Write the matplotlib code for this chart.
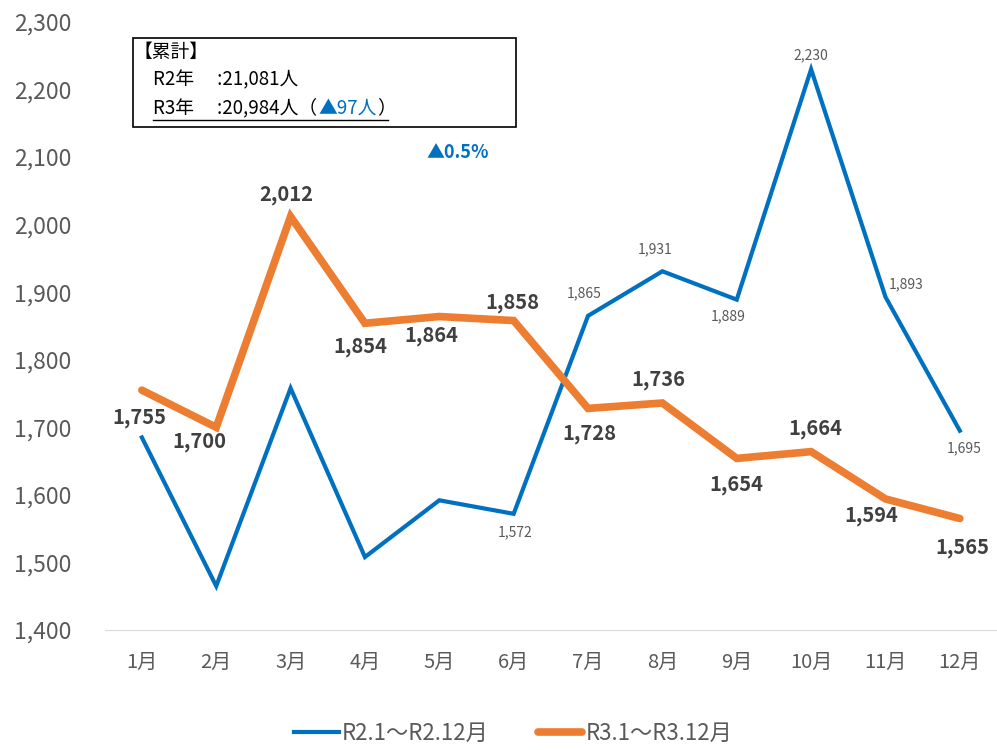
import matplotlib
matplotlib.use("Agg")
import matplotlib.pyplot as plt
from matplotlib.lines import Line2D
from matplotlib.patches import Rectangle

plt.rcParams["font.family"] = ["Noto Sans CJK JP", "DejaVu Sans"]

months = ["1月", "2月", "3月", "4月", "5月", "6月",
          "7月", "8月", "9月", "10月", "11月", "12月"]
r2_values = [1685, 1465, 1758, 1508, 1592, 1572, 1865, 1931, 1889, 2230, 1893, 1695]
r3_values = [1755, 1700, 2012, 1854, 1864, 1858, 1728, 1736, 1654, 1664, 1594, 1565]
r2_labeled = [5, 6, 7, 8, 9, 10, 11]   # months whose R2 value is shown
r2_label = "R2.1～R2.12月"
r3_label = "R3.1～R3.12月"
y_ticks = list(range(1400, 2301, 100))

BLUE = "#0070C0"
ORANGE = "#ED7D31"
GRAY = "#595959"
DARK = "#404040"

# label offsets in points (dx, dy)
r3_offsets = [(-2, -20), (-12, -10), (-3, 16), (-3, -17), (-6, -14), (-1, 13),
              (1, -18), (-3, 17), (0, -19), (3, 17), (-10, -12), (2, -21)]
r2_offsets = {5: (1, -13), 6: (-3, 16), 7: (-5, 16), 8: (-6, -12),
              9: (0, 10), 10: (15, 9), 11: (3, -13)}

fig = plt.figure(figsize=(9.97, 7.5), dpi=100)
ax = fig.add_axes([0.105, 0.16, 0.895, 0.8107])

x = list(range(len(months)))
ax.plot(x, r2_values, color=BLUE, linewidth=3.0, label=r2_label,
        solid_joinstyle="miter")
ax.plot(x, r3_values, color=ORANGE, linewidth=5.5, label=r3_label,
        solid_capstyle="round", solid_joinstyle="miter")

for i, v in enumerate(r3_values):
    dx, dy = r3_offsets[i]
    ax.annotate(f"{v:,}", (i, v), xytext=(dx, dy), textcoords="offset points",
                ha="center", va="center", fontsize=14.5, fontweight="bold",
                color=DARK)

for i in r2_labeled:
    dx, dy = r2_offsets[i]
    ax.annotate(f"{r2_values[i]:,}", (i, r2_values[i]), xytext=(dx, dy),
                textcoords="offset points", ha="center", va="center",
                fontsize=10, color=GRAY)

ax.set_xlim(-0.5, len(months) - 0.5)
ax.set_ylim(1400, 2300)
ax.set_yticks(y_ticks)
ax.set_yticklabels([f"{t:,}" for t in y_ticks], fontsize=16.5, color=GRAY)
ax.set_xticks(x)
ax.set_xticklabels(months, fontsize=14.5, color=GRAY)
ax.tick_params(axis="both", length=0)
ax.tick_params(axis="y", pad=24)
ax.tick_params(axis="x", pad=16)
for s in ["top", "right", "left"]:
    ax.spines[s].set_visible(False)
ax.spines["bottom"].set_color("#d9d9d9")

fig.legend(loc="lower center", ncol=2, frameon=False, fontsize=16,
           bbox_to_anchor=(0.515, -0.02), handlelength=2.0, columnspacing=2.2,
           labelcolor=GRAY, handletextpad=0.15)

# cumulative box
W, H = 997, 750
def fx(px):
    return px / W
def fy(py):
    return 1 - py / H

fig.patches.append(Rectangle((fx(133), fy(127)), fx(516) - fx(133), fy(38) - fy(127),
                             transform=fig.transFigure, fill=False,
                             edgecolor="black", linewidth=1.2))
fs = 13.5
fig.text(fx(134), fy(52), "【累計】", fontsize=fs, va="center", ha="left")
fig.text(fx(153), fy(80), "R2年　 :21,081人", fontsize=fs, va="center", ha="left")
t1 = fig.text(fx(153), fy(108), "R3年　 :20,984人（", fontsize=fs,
              va="center", ha="left")
fig.canvas.draw()
r = fig.canvas.get_renderer()
bb = t1.get_window_extent(r)
t2 = fig.text(bb.x1 / W + 0.001, fy(108), "▲97人", fontsize=fs, va="center",
              ha="left", color=BLUE)
fig.canvas.draw()
bb2 = t2.get_window_extent(r)
t3 = fig.text(bb2.x1 / W + 0.001, fy(108), "）", fontsize=fs, va="center", ha="left")
fig.canvas.draw()
bb3 = t3.get_window_extent(r)
fig.add_artist(Line2D([fx(153), bb3.x1 / W - 0.008], [fy(120), fy(120)],
                      transform=fig.transFigure, color="black", linewidth=1.0))

fig.text(fx(458), fy(152), "▲0.5%", fontsize=13, fontweight="bold",
         color=BLUE, va="center", ha="center")

fig.savefig("out.png", dpi=100)
